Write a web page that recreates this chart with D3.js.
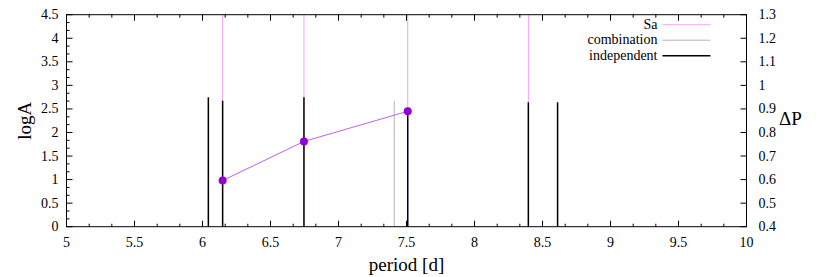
<!DOCTYPE html>
<html>
<head>
<meta charset="utf-8">
<script src="https://cdn.jsdelivr.net/npm/d3@7"></script>
<style>
  body { margin: 0; background: #fff; }
  svg text { font-family: "Liberation Serif", "Times New Roman", Times, serif; }
</style>
</head>
<body>
<svg id="chart" width="830" height="277"></svg>
<script>
// frequencies identified as Sa (drawn to full height)
const saPeriods = [6.148, 6.746, 7.509, 8.396];
// combination peaks: [period, logA]
const combination = [[7.41, 2.675]];
// independent peaks: [period, logA]
const independent = [
  [6.043, 2.75], [6.148, 2.675], [6.746, 2.75],
  [7.509, 2.45], [8.396, 2.64], [8.611, 2.64]
];
// ΔP series (right axis)
const dpPeriods = [6.148, 6.746, 7.509];
const dpValues = [0.596, 0.762, 0.89];

const legendItems = [
  { label: 'Sa', color: '#f4a4f4', width: 1 },
  { label: 'combination', color: '#b4b4b4', width: 1 },
  { label: 'independent', color: '#000', width: 1.5 }
];

const margin = { top: 14.7, right: 83.5, bottom: 50.3, left: 66.5 };
const width = 830, height = 277;
const chartW = width - margin.left - margin.right;
const chartH = height - margin.top - margin.bottom;

const svg = d3.select('#chart');
const chart = svg.append('g').attr('transform', `translate(${margin.left},${margin.top})`);

const xScale = d3.scaleLinear().domain([5, 10]).range([0, chartW]);
const yScale = d3.scaleLinear().domain([0, 4.5]).range([chartH, 0]);
const y2Scale = d3.scaleLinear().domain([0.4, 1.3]).range([chartH, 0]);

chart.append('clipPath').attr('id', 'clip')
  .append('rect').attr('width', chartW).attr('height', chartH);

// ticks
const xMajor = d3.range(5, 10.001, 0.5);
const xMinor = d3.range(0, 31).map((i) => 5 + i / 6).filter((v, i) => i % 3 !== 0);
const yMajor = d3.range(0, 4.501, 0.5);
const yMinor = d3.range(0, 28).map((i) => i / 6).filter((v, i) => i % 3 !== 0);
const y2Major = d3.range(0, 10).map((i) => 0.4 + i * 0.1);

const tickG = chart.append('g').attr('class', 'g-ticks')
  .attr('stroke', '#000').attr('stroke-width', 1);

xMajor.forEach((v) => {
  const x = xScale(v);
  tickG.append('line').attr('x1', x).attr('x2', x).attr('y1', chartH).attr('y2', chartH - 6);
  tickG.append('line').attr('x1', x).attr('x2', x).attr('y1', 0).attr('y2', 6);
});
xMinor.forEach((v) => {
  const x = xScale(v);
  tickG.append('line').attr('x1', x).attr('x2', x).attr('y1', chartH).attr('y2', chartH - 3);
  tickG.append('line').attr('x1', x).attr('x2', x).attr('y1', 0).attr('y2', 3);
});
yMajor.forEach((v) => {
  const y = yScale(v);
  tickG.append('line').attr('x1', 0).attr('x2', 6).attr('y1', y).attr('y2', y);
});
yMinor.forEach((v) => {
  const y = yScale(v);
  tickG.append('line').attr('x1', 0).attr('x2', 3).attr('y1', y).attr('y2', y);
});
y2Major.forEach((v) => {
  const y = y2Scale(v);
  tickG.append('line').attr('x1', chartW).attr('x2', chartW - 6).attr('y1', y).attr('y2', y);
});

// impulses
const marks = chart.append('g').attr('clip-path', 'url(#clip)');

marks.selectAll('.sa-line')
  .data(saPeriods)
  .enter()
  .append('line')
    .attr('class', 'sa-line')
    .attr('x1', (d) => xScale(d)).attr('x2', (d) => xScale(d))
    .attr('y1', yScale(0)).attr('y2', yScale(4.5))
    .attr('stroke', legendItems[0].color).attr('stroke-width', 1);

marks.selectAll('.comb-line')
  .data(combination)
  .enter()
  .append('line')
    .attr('class', 'comb-line')
    .attr('x1', (d) => xScale(d[0])).attr('x2', (d) => xScale(d[0]))
    .attr('y1', yScale(0)).attr('y2', (d) => yScale(d[1]))
    .attr('stroke', legendItems[1].color).attr('stroke-width', 1);

marks.selectAll('.ind-line')
  .data(independent)
  .enter()
  .append('line')
    .attr('class', 'ind-line')
    .attr('x1', (d) => xScale(d[0])).attr('x2', (d) => xScale(d[0]))
    .attr('y1', yScale(0)).attr('y2', (d) => yScale(d[1]))
    .attr('stroke', legendItems[2].color).attr('stroke-width', 1.5);

// ΔP series
const dpData = dpPeriods.map((p, i) => ({ p, v: dpValues[i] }));
marks.append('path')
  .datum(dpData)
  .attr('fill', 'none')
  .attr('stroke', '#c060f0')
  .attr('stroke-width', 1)
  .attr('d', d3.line().x((d) => xScale(d.p)).y((d) => y2Scale(d.v)));

marks.selectAll('.dp-point')
  .data(dpData)
  .enter()
  .append('circle')
    .attr('class', 'dp-point')
    .attr('cx', (d) => xScale(d.p))
    .attr('cy', (d) => y2Scale(d.v))
    .attr('r', 4)
    .attr('fill', '#9400d3');

// frame
chart.append('rect')
  .attr('width', chartW).attr('height', chartH)
  .attr('fill', 'none').attr('stroke', '#000').attr('stroke-width', 1);

// tick labels
const labelG = chart.append('g').attr('font-size', 14);
xMajor.forEach((v) => {
  labelG.append('text')
    .attr('x', xScale(v)).attr('y', chartH + 20)
    .attr('text-anchor', 'middle')
    .text(d3.format('~g')(v));
});
yMajor.forEach((v) => {
  labelG.append('text')
    .attr('x', -8).attr('y', yScale(v) + 4.5)
    .attr('text-anchor', 'end')
    .text(d3.format('~g')(v));
});
y2Major.forEach((v) => {
  labelG.append('text')
    .attr('x', chartW + 12).attr('y', y2Scale(v) + 4.5)
    .attr('text-anchor', 'start')
    .text(d3.format('~g')(+v.toFixed(1)));
});

// axis titles
svg.append('text')
  .attr('font-size', 19)
  .attr('text-anchor', 'middle')
  .attr('transform', `translate(31,${margin.top + chartH / 2}) rotate(-90)`)
  .text('logA');
svg.append('text')
  .attr('font-size', 19)
  .attr('text-anchor', 'middle')
  .attr('x', margin.left + chartW / 2).attr('y', 271)
  .text('period [d]');
svg.append('text')
  .attr('font-size', 19)
  .attr('x', 779).attr('y', 125)
  .text('ΔP');

// legend
const legend = chart.append('g').attr('font-size', 14);
legendItems.forEach((item, i) => {
  const y = 10 + i * 15.5;
  legend.append('text')
    .attr('x', 591).attr('y', y + 4)
    .attr('text-anchor', 'end')
    .text(item.label);
  legend.append('line')
    .attr('x1', 596).attr('x2', 644)
    .attr('y1', y).attr('y2', y)
    .attr('stroke', item.color).attr('stroke-width', item.width);
});
</script>
</body>
</html>
